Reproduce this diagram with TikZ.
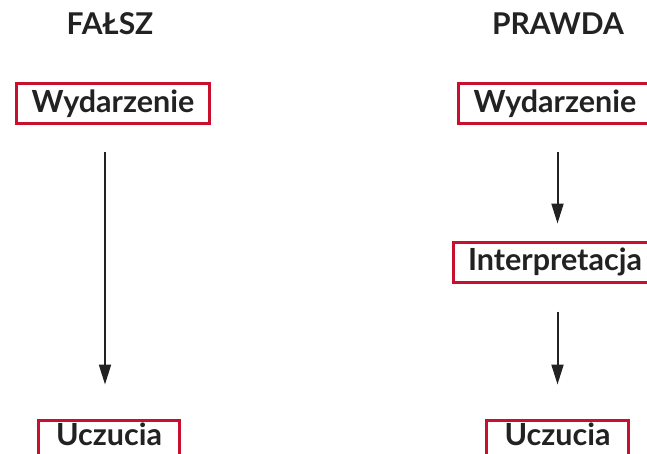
\documentclass[tikz,border=0pt]{standalone}
\usepackage{fontspec}
\setmainfont{Lato}
\usetikzlibrary{arrows.meta}
\definecolor{boxred}{HTML}{C8102E}
\definecolor{ink}{HTML}{222222}
\tikzset{
  box/.style={draw=boxred, line width=3pt, fill=white, text=ink,
    font=\fontsize{30.5}{36}\selectfont\bfseries,
    minimum height=40pt, inner xsep=15pt},
  lowbox/.style={box, anchor=north, text height=21pt, text depth=18pt,
    inner ysep=4pt, inner xsep=18pt},
  title/.style={text=ink, font=\fontsize{30}{36}\selectfont\bfseries},
  arr/.style={ink, line width=2pt, -{Triangle[length=20pt,width=12pt]}}
}
\begin{document}
\begin{tikzpicture}[x=1pt,y=-1pt]
\useasboundingbox (0,0) rectangle (647,453);
\clip (0,0) rectangle (647,453);
% titles
\node[title] (falsz) at (110,24) {FAŁSZ};
\node[title] (prawda) at (558,24) {PRAWDA};
% left column
\node[box] (lwyd) at (113,103.5) {Wydarzenie};
\node[lowbox] (lucz) at (109,418.5) {Uczucia};
% right column
\node[box] (rwyd) at (555,103.5) {Wydarzenie};
\node[box] (rint) at (555,262) {Interpretacja};
\node[lowbox] (rucz) at (557.5,418.5) {Uczucia};
% arrows
\draw[arr, shorten <=27pt, shorten >=34pt] (lwyd.south -| 105,0) -- (lucz.north -| 105,0);
\draw[arr, shorten <=27pt, shorten >=17pt] (rwyd.south -| rucz) -- (rint.north -| rucz);
\draw[arr, shorten <=28pt, shorten >=34pt] (rint.south -| rucz) -- (rucz.north);
\end{tikzpicture}
\end{document}
